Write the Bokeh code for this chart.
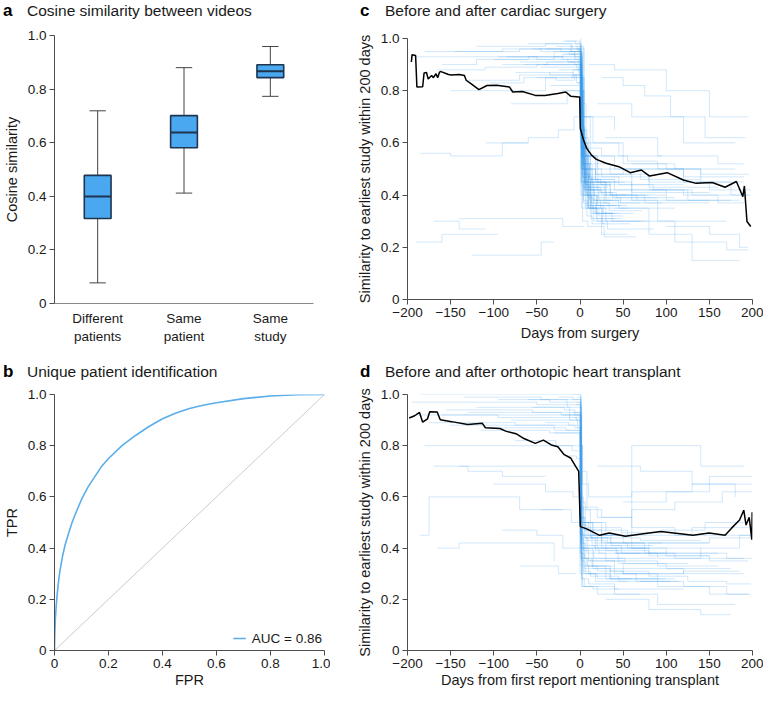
from bokeh.plotting import figure
from bokeh.layouts import row, column
from bokeh.models import FixedTicker, Range1d, Legend, LegendItem, Div
from bokeh.embed import file_html
from bokeh.resources import INLINE

FONT = "Liberation Sans"
TXT = "#1a1a1a"
AXC = "#4d4d4d"
BOXFILL = "#4aa8f0"
BOXLINE = "#1e3550"
ROC = "#5aaeea"
TRACE = "#3d9ff0"

# ---------------- panel a data ----------------
box_labels = ["Different\npatients", "Same\npatient", "Same\nstudy"]
box_low = [0.077, 0.412, 0.773]
box_q1 = [0.317, 0.581, 0.843]
box_med = [0.399, 0.638, 0.867]
box_q3 = [0.478, 0.701, 0.891]
box_high = [0.719, 0.880, 0.959]

# ---------------- panel b data ----------------
roc_fpr = [0, 0.001, 0.003, 0.006, 0.01, 0.015, 0.02, 0.03, 0.04, 0.05, 0.065, 0.08, 0.1,
           0.125, 0.15, 0.175, 0.2, 0.25, 0.3, 0.35, 0.4, 0.45, 0.5, 0.55, 0.6, 0.7, 0.8, 0.9, 1.0]
roc_tpr = [0, 0.06, 0.12, 0.17, 0.22, 0.27, 0.31, 0.37, 0.415, 0.45, 0.5, 0.54, 0.59,
           0.64, 0.68, 0.72, 0.75, 0.80, 0.84, 0.875, 0.905, 0.928, 0.945, 0.958, 0.968, 0.984, 0.994, 0.999, 1.0]
chance = [0, 1]

# ---------------- panel c data ----------------
c_mean_days = [-195.5, -194.7, -190.6, -189.1, -182.4, -180.8, -178, -176, -172, -170, -167,
               -165, -163, -161.9, -152.5, -148.9, -140, -134, -132, -126.5, -117.2, -107.8,
               -96.6, -81.7, -78, -66.8, -51.8, -40.6, -25.7, -16.5, -10.9, -1.5, -0.35, 0.35,
               4.1, 7.8, 13.4, 19, 30.2, 45.1, 58.2, 71.3, 80.6, 101.1, 119.8, 134.6, 153.3,
               168.2, 181.3, 188.8, 190.6, 193.6, 198]
c_mean_vals = [0.91, 0.938, 0.935, 0.814, 0.815, 0.868, 0.87, 0.845, 0.858, 0.85, 0.865,
               0.85, 0.87, 0.874, 0.862, 0.86, 0.862, 0.858, 0.84, 0.827, 0.804, 0.82,
               0.821, 0.814, 0.795, 0.797, 0.782, 0.782, 0.789, 0.795, 0.779, 0.776, 0.776, 0.655,
               0.611, 0.579, 0.553, 0.537, 0.522, 0.509, 0.486, 0.496, 0.473, 0.486, 0.458, 0.445, 0.448,
               0.43, 0.452, 0.394, 0.435, 0.299, 0.28]

c_trace_days = [
    [-190, -100, -10, 2, 40, 120, 190], [-185, -150, -90, -60], [-150, -40, 0, 5, 60, 150],
    [-140, -100, -20, 5], [-125, -45, -30], [-100, -30, 0, 4, 50, 110, 180],
    [-90, -20, 0, 2, 20, 60], [-80, -15, 1, 8, 35, 100], [-60, -10, 0, 3, 15, 45, 95],
    [-50, -8, 1, 6, 25, 55], [-40, -5, 0, 2, 10, 30, 80], [-35, -3, 1, 5, 20, 70, 140],
    [-30, -2, 0, 3, 12, 40], [-25, -1, 2, 7, 30, 90, 170], [-20, -4, 0, 4, 18, 60, 120],
    [-15, -2, 1, 4, 9, 22, 50], [-10, 0, 2, 6, 15, 35, 75, 150], [-8, 0, 3, 9, 28, 65],
    [-5, 0, 1, 5, 11, 40, 100, 185], [-3, 0, 2, 8, 20, 55], [0, 1, 4, 10, 25, 80, 160],
    [0, 2, 6, 15, 45, 110], [1, 3, 8, 18, 60, 130, 195], [2, 5, 12, 30, 70],
    [3, 7, 20, 50, 120, 190], [5, 12, 35, 80, 150, 198], [10, 40, 100, 150, 195],
    [20, 60, 120, 180], [30, 90, 160, 190], [40, 80, 130, 185], [60, 110, 170, 195],
    [-170, -140, -110], [-145, -100, -70, -30, 0, 5, 40], [-70, -25, -6, 0, 3, 14, 35],
    [-45, -12, -2, 1, 6, 16, 42], [-18, -6, 0, 2, 5, 13, 26, 58], [-12, -3, 0, 1, 4, 10, 33],
    [-160, -120, -60, -20, 0, 3, 10, 30], [-130, -70, -30, -4, 0, 2, 9, 22, 45],
    [-110, -60, -25, -7, 0, 1, 7, 15, 38], [-95, -50, -14, -1, 1, 3, 8, 14, 52],
    [-75, -35, -9, 0, 1, 4, 11, 24, 60, 150], [-55, -22, -6, 0, 2, 5, 10, 19, 48],
    [-42, -16, -4, 0, 1, 3, 6, 12, 28, 70], [-28, -9, -2, 0, 1, 4, 8, 17, 36],
    [-22, -7, -1, 0, 2, 5, 9, 16, 32, 85], [-16, -5, 0, 1, 3, 6, 12, 21, 44],
    [-13, -4, 0, 1, 2, 5, 10, 19, 41], [-9, -3, 0, 1, 3, 7, 13, 27, 62],
    [-6, -1, 0, 1, 2, 4, 8, 14, 30], [-4, 0, 1, 2, 4, 7, 12, 25, 53],
    [-2, 0, 1, 3, 6, 10, 18, 37, 78], [0, 1, 2, 4, 7, 12, 20, 34], [0, 1, 3, 5, 9, 15, 26, 48],
    [1, 2, 4, 8, 13, 24, 42, 90], [-190, -160, -130, -95], [60, 100, 140, 175, 198],
    [80, 120, 160, 190], [100, 150, 185, 195],
    [-180, -140, -90, -45, -12, 0, 2, 7, 20], [-165, -110, -50, -18, 0, 1, 5, 12, 28, 66],
    [-120, -85, -40, -10, 0, 1, 4, 9, 18, 40], [-105, -65, -28, -6, 0, 2, 6, 13, 34, 72],
    [-85, -45, -20, -3, 0, 1, 3, 8, 16, 38, 110], [-65, -38, -15, -2, 0, 1, 2, 6, 11, 24, 57],
    [-48, -26, -11, 0, 1, 3, 6, 10, 21, 47, 95], [-36, -19, -8, 0, 1, 2, 4, 9, 19, 46],
    [8, 25, 55, 90, 140, 196], [15, 45, 85, 125, 175], [25, 50, 75, 105, 145, 192],
]
c_trace_vals = [
    [0.93, 0.93, 0.93, 0.55, 0.50, 0.45, 0.45], [0.56, 0.55, 0.60, 0.60], [0.80, 0.85, 0.85, 0.42, 0.38, 0.38],
    [0.31, 0.31, 0.28, 0.28], [0.17, 0.22, 0.22], [0.92, 0.95, 0.97, 0.60, 0.52, 0.50, 0.50],
    [0.90, 0.90, 0.88, 0.35, 0.30, 0.30], [0.75, 0.80, 0.50, 0.45, 0.40, 0.40], [0.98, 0.95, 0.95, 0.70, 0.60, 0.55, 0.55],
    [0.85, 0.88, 0.40, 0.35, 0.25, 0.25], [0.96, 0.96, 0.90, 0.50, 0.45, 0.40, 0.40], [0.82, 0.82, 0.65, 0.55, 0.50, 0.46, 0.46],
    [0.93, 0.93, 0.78, 0.40, 0.33, 0.33], [0.88, 0.88, 0.45, 0.42, 0.38, 0.30, 0.30], [0.99, 0.99, 0.80, 0.55, 0.48, 0.44, 0.44],
    [0.92, 0.90, 0.60, 0.38, 0.35, 0.32, 0.32], [0.95, 0.95, 0.55, 0.47, 0.44, 0.40, 0.37, 0.37], [0.86, 0.86, 0.30, 0.28, 0.24, 0.24],
    [0.97, 0.97, 0.70, 0.52, 0.46, 0.42, 0.38, 0.38], [0.83, 0.83, 0.50, 0.40, 0.36, 0.36], [1.0, 0.85, 0.58, 0.50, 0.47, 0.43, 0.43],
    [0.92, 0.62, 0.44, 0.38, 0.35, 0.35], [0.90, 0.65, 0.50, 0.45, 0.42, 0.40, 0.40], [0.80, 0.48, 0.35, 0.30, 0.30],
    [0.75, 0.55, 0.48, 0.50, 0.47, 0.47], [0.70, 0.52, 0.48, 0.45, 0.42, 0.42], [0.90, 0.88, 0.80, 0.70, 0.70],
    [0.75, 0.70, 0.60, 0.60], [0.62, 0.55, 0.52, 0.52], [0.35, 0.25, 0.15, 0.15], [0.30, 0.22, 0.19, 0.19],
    [0.30, 0.27, 0.27], [0.95, 0.95, 0.96, 0.96, 0.96, 0.70, 0.65], [0.91, 0.91, 0.90, 0.62, 0.52, 0.44, 0.44],
    [0.89, 0.89, 0.87, 0.58, 0.41, 0.36, 0.36], [0.94, 0.92, 0.92, 0.48, 0.40, 0.31, 0.29, 0.29], [0.97, 0.96, 0.96, 0.66, 0.50, 0.43, 0.43],
    [0.90, 0.92, 0.93, 0.94, 0.94, 0.62, 0.45, 0.42], [0.84, 0.86, 0.86, 0.83, 0.83, 0.55, 0.43, 0.38, 0.38],
    [0.60, 0.62, 0.65, 0.70, 0.70, 0.45, 0.36, 0.33, 0.33], [0.93, 0.92, 0.91, 0.91, 0.75, 0.58, 0.50, 0.45, 0.45],
    [0.87, 0.86, 0.85, 0.85, 0.68, 0.52, 0.46, 0.44, 0.41, 0.41], [0.96, 0.95, 0.93, 0.93, 0.66, 0.48, 0.40, 0.36, 0.36],
    [0.90, 0.90, 0.89, 0.89, 0.80, 0.60, 0.45, 0.40, 0.37, 0.37], [0.97, 0.96, 0.95, 0.95, 0.72, 0.50, 0.42, 0.38, 0.38],
    [0.80, 0.80, 0.79, 0.79, 0.60, 0.45, 0.35, 0.30, 0.27, 0.27], [0.99, 0.98, 0.98, 0.85, 0.65, 0.55, 0.48, 0.45, 0.45],
    [0.91, 0.91, 0.91, 0.70, 0.55, 0.42, 0.35, 0.31, 0.31], [0.94, 0.94, 0.94, 0.62, 0.47, 0.40, 0.36, 0.33, 0.33],
    [0.88, 0.88, 0.88, 0.58, 0.44, 0.37, 0.32, 0.29, 0.29], [0.96, 0.96, 0.80, 0.63, 0.51, 0.45, 0.42, 0.40, 0.40],
    [0.86, 0.86, 0.68, 0.47, 0.40, 0.36, 0.33, 0.30, 0.30], [0.95, 0.77, 0.60, 0.50, 0.44, 0.40, 0.37, 0.37], [0.83, 0.64, 0.52, 0.45, 0.39, 0.35, 0.31, 0.31],
    [0.97, 0.74, 0.56, 0.47, 0.43, 0.41, 0.39, 0.39], [0.22, 0.25, 0.25, 0.25], [0.52, 0.50, 0.45, 0.40, 0.40],
    [0.42, 0.40, 0.37, 0.37], [0.28, 0.25, 0.20, 0.20],
    [0.95, 0.95, 0.96, 0.95, 0.94, 0.94, 0.58, 0.46, 0.42], [0.88, 0.89, 0.90, 0.90, 0.90, 0.66, 0.52, 0.44, 0.40, 0.38],
    [0.97, 0.97, 0.98, 0.98, 0.98, 0.80, 0.60, 0.50, 0.46, 0.46], [0.83, 0.85, 0.84, 0.86, 0.86, 0.54, 0.43, 0.37, 0.34, 0.34],
    [0.93, 0.93, 0.92, 0.92, 0.92, 0.72, 0.55, 0.45, 0.41, 0.39, 0.39], [0.90, 0.91, 0.91, 0.91, 0.91, 0.78, 0.57, 0.44, 0.38, 0.35, 0.35],
    [0.96, 0.96, 0.95, 0.95, 0.82, 0.62, 0.48, 0.42, 0.39, 0.37, 0.37], [0.87, 0.87, 0.86, 0.86, 0.69, 0.52, 0.43, 0.37, 0.33, 0.33],
    [0.58, 0.55, 0.53, 0.50, 0.48, 0.48], [0.47, 0.44, 0.42, 0.38, 0.38], [0.85, 0.82, 0.78, 0.70, 0.62, 0.62],
]

# ---------------- panel d data ----------------
d_mean_days = [-198.1, -191.7, -186.1, -182.4, -176.8, -174.2, -165.6, -162, -148.9, -130.2,
               -113.4, -109.7, -92.9, -85.4, -74.2, -65, -51.8, -42.5, -33.2, -25.7, -18.3,
               -10.9, -5.2, -1.5, 0.35, 7.8, 22.7, 33.9, 52.6, 71.3, 93.6, 108.6, 130.9,
               149.6, 168.2, 175.7, 185, 189.9, 192.5, 196.2, 199.2, 199.6]
d_mean_vals = [0.908, 0.917, 0.93, 0.892, 0.905, 0.933, 0.932, 0.901, 0.894, 0.883,
               0.888, 0.87, 0.867, 0.856, 0.847, 0.828, 0.809, 0.822, 0.803, 0.796, 0.765,
               0.752, 0.72, 0.70, 0.484, 0.475, 0.45, 0.459, 0.446, 0.455, 0.465, 0.459, 0.45,
               0.459, 0.45, 0.478, 0.51, 0.548, 0.49, 0.52, 0.433, 0.54]

d_trace_days = [
    [-185, -100, -2, 1, 20, 80, 150, 198], [-180, -120, -5, 0, 2, 30, 100],
    [-185, -175, -160, -70, -20], [-165, -140, -50, -30], [-160, -60, -1, 1, 15, 60, 140],
    [-150, -90, -30, -1, 1, 10, 50, 120, 190], [-140, -80, -15, 0, 2, 25, 75, 160],
    [-120, -60, -12, 0, 3, 40, 90, 180], [-100, -40, -8, 0, 5, 35, 110],
    [-80, -20, -3, 1, 6, 45, 100, 175], [-60, -15, -1, 2, 12, 55, 130, 195],
    [-45, -10, 0, 2, 20, 70], [-30, -5, 0, 3, 8, 30, 90, 160], [-20, -2, 0, 2, 10, 40, 120],
    [-10, 0, 1, 4, 15, 50, 150], [-5, 0, 1, 5, 25, 80, 170, 200], [0, 3, 10, 60, 130, 200],
    [2, 8, 25, 60, 110, 200], [5, 30, 60, 100, 140, 190], [10, 40, 90, 150, 198],
    [20, 70, 130, 180], [30, 80, 140, 175], [-70, -25, -5], [-90, -50, -20, 0, 4, 20, 60],
    [50, 100, 150, 200], [-8, 0, 2, 9, 30, 65, 115], [-3, 0, 1, 6, 18, 44, 88],
    [-130, -70, -20, -1, 0, 1, 5, 14, 40], [-110, -50, -16, -2, 0, 1, 4, 22, 70],
    [-95, -35, -12, -1, 0, 1, 3, 10, 35, 90], [-75, -28, -9, 0, 1, 2, 6, 18, 55],
    [-55, -18, -6, 0, 1, 3, 9, 30, 80, 150], [-40, -13, -3, 0, 1, 2, 5, 15, 45],
    [-25, -8, -2, 0, 1, 4, 12, 35, 95], [-15, -4, 0, 1, 3, 8, 20, 50, 120],
    [-7, -1, 0, 1, 2, 7, 17, 42, 100], [-3, 0, 1, 2, 5, 13, 32, 75],
    [-170, -130, -90, -40], [40, 90, 140, 185, 200], [70, 120, 170, 195], [15, 55, 100, 150, 195],
    [-195, -150, -100, -50, -10, 0, 1, 6, 25, 70, 140], [-190, -140, -95, -45, -4, 0, 1, 8, 30, 75],
    [-175, -125, -75, -30, -6, 0, 1, 3, 12, 45, 105], [-155, -105, -55, -22, -3, 0, 1, 2, 10, 36, 85],
    [-135, -85, -45, -17, -2, 0, 1, 4, 16, 52, 125], [-115, -65, -35, -11, 0, 1, 3, 14, 48, 110, 190],
    [3, 20, 60, 110, 165, 200], [6, 35, 80, 125, 170, 198], [12, 48, 95, 145, 190], [1, 15, 50, 120, 185],
]
d_trace_vals = [
    [1.0, 1.0, 1.0, 0.45, 0.40, 0.42, 0.44, 0.44], [0.80, 0.80, 0.80, 0.80, 0.30, 0.28, 0.28],
    [0.45, 0.60, 0.60, 0.55, 0.55], [0.40, 0.42, 0.42, 0.35], [0.92, 0.92, 0.92, 0.50, 0.45, 0.40, 0.40],
    [0.88, 0.88, 0.86, 0.86, 0.40, 0.35, 0.32, 0.30, 0.30], [0.72, 0.72, 0.72, 0.60, 0.50, 0.42, 0.38, 0.38],
    [0.95, 0.95, 0.90, 0.30, 0.25, 0.22, 0.18, 0.18], [0.65, 0.62, 0.60, 0.38, 0.32, 0.28, 0.28],
    [0.90, 0.90, 0.88, 0.42, 0.36, 0.34, 0.32, 0.32], [0.98, 0.95, 0.95, 0.55, 0.47, 0.45, 0.48, 0.48],
    [0.55, 0.50, 0.45, 0.25, 0.22, 0.22], [0.85, 0.85, 0.80, 0.40, 0.38, 0.35, 0.33, 0.33], [0.92, 0.92, 0.70, 0.28, 0.26, 0.24, 0.24],
    [1.0, 1.0, 0.60, 0.50, 0.45, 0.42, 0.42], [0.96, 0.96, 0.48, 0.44, 0.40, 0.38, 0.36, 0.36], [0.80, 0.65, 0.60, 0.62, 0.65, 0.65],
    [0.70, 0.55, 0.52, 0.48, 0.45, 0.45], [0.50, 0.45, 0.80, 0.80, 0.72, 0.72], [0.35, 0.30, 0.25, 0.22, 0.22],
    [0.72, 0.70, 0.65, 0.60], [0.20, 0.16, 0.14, 0.14], [0.33, 0.30, 0.30], [0.47, 0.45, 0.40, 0.40, 0.30, 0.28, 0.28],
    [0.58, 0.62, 0.68, 0.68], [0.93, 0.93, 0.36, 0.33, 0.30, 0.27, 0.27], [0.99, 0.99, 0.52, 0.44, 0.39, 0.36, 0.36],
    [0.93, 0.93, 0.93, 0.93, 0.52, 0.42, 0.36, 0.33, 0.33], [0.87, 0.87, 0.86, 0.86, 0.60, 0.46, 0.40, 0.38, 0.38],
    [0.98, 0.97, 0.97, 0.97, 0.70, 0.38, 0.33, 0.30, 0.28, 0.28], [0.82, 0.80, 0.78, 0.78, 0.45, 0.35, 0.30, 0.27, 0.27],
    [0.95, 0.94, 0.92, 0.92, 0.50, 0.44, 0.40, 0.39, 0.37, 0.37], [0.89, 0.88, 0.87, 0.87, 0.33, 0.28, 0.25, 0.24, 0.24],
    [0.99, 0.98, 0.98, 0.98, 0.56, 0.48, 0.44, 0.42, 0.42], [0.76, 0.75, 0.75, 0.40, 0.36, 0.33, 0.31, 0.30, 0.30],
    [0.91, 0.91, 0.91, 0.47, 0.43, 0.41, 0.40, 0.38, 0.38], [0.97, 0.97, 0.62, 0.52, 0.47, 0.44, 0.42, 0.42],
    [0.72, 0.70, 0.68, 0.68], [0.38, 0.36, 0.40, 0.45, 0.45], [0.27, 0.25, 0.22, 0.22], [0.42, 0.40, 0.37, 0.35, 0.35],
    [0.97, 0.97, 0.97, 0.96, 0.96, 0.96, 0.58, 0.47, 0.44, 0.43, 0.43], [0.92, 0.92, 0.91, 0.91, 0.90, 0.90, 0.49, 0.43, 0.40, 0.40],
    [0.89, 0.89, 0.88, 0.88, 0.87, 0.87, 0.36, 0.31, 0.29, 0.27, 0.27], [0.94, 0.94, 0.93, 0.92, 0.92, 0.92, 0.64, 0.50, 0.45, 0.41, 0.41],
    [0.99, 0.99, 0.98, 0.98, 0.98, 0.98, 0.44, 0.39, 0.36, 0.34, 0.34], [0.86, 0.86, 0.85, 0.85, 0.85, 0.52, 0.45, 0.41, 0.38, 0.36, 0.36],
    [0.56, 0.52, 0.55, 0.58, 0.62, 0.62], [0.33, 0.31, 0.29, 0.27, 0.26, 0.26], [0.48, 0.46, 0.47, 0.50, 0.50], [0.40, 0.32, 0.30, 0.31, 0.31],
]

y_ticks = [0, 0.2, 0.4, 0.6, 0.8, 1.0]
day_ticks = [-200, -150, -100, -50, 0, 50, 100, 150, 200]
y_tick_text = {0: "0", 1: "1.0"}
day_tick_text = {-200: "\u2212200", -150: "\u2212150", -100: "\u2212100", -50: "\u221250"}

panel_letters = ["a", "b", "c", "d"]
panel_titles = ["Cosine similarity between videos", "Unique patient identification",
                "Before and after cardiac surgery", "Before and after orthotopic heart transplant"]


def make_fig(w, h, left, right, top, bottom, xr, yr):
    p = figure(width=w, height=h, x_range=xr, y_range=yr, output_backend="svg",
               toolbar_location=None, min_border_left=left, min_border_right=right,
               min_border_top=top, min_border_bottom=bottom)
    p.outline_line_color = None
    p.xgrid.visible = False
    p.ygrid.visible = False
    for ax in p.axis:
        ax.axis_line_color = AXC
        ax.major_tick_line_color = AXC
        ax.major_tick_in = 0
        ax.major_tick_out = 5
        ax.minor_tick_line_color = None
        ax.major_label_text_font = FONT
        ax.major_label_text_font_size = "13.5px"
        ax.major_label_text_color = TXT
        ax.major_label_standoff = 3
        ax.axis_label_text_font = FONT
        ax.axis_label_text_font_size = "14.5px"
        ax.axis_label_text_font_style = "normal"
        ax.axis_label_text_color = TXT
        ax.axis_label_standoff = 5
    p.yaxis.ticker = FixedTicker(ticks=y_ticks)
    p.yaxis.major_label_overrides = y_tick_text
    return p


def title_div(letter, text, width, height, letter_x, text_x, pad_top):
    fam = "font-family:'%s';" % FONT
    html = ('<div style="%swhite-space:nowrap;line-height:20px;padding-top:%dpx;margin:0">'
            '<span style="display:inline-block;width:%dpx"></span>'
            '<span style="%sdisplay:inline-block;width:%dpx;font-weight:bold;font-size:17px;color:#000">%s</span>'
            '<span style="%sfont-size:15.5px;color:%s">%s</span></div>') % (
        fam, pad_top, letter_x, fam, text_x - letter_x, letter, fam, TXT, text)
    return Div(text=html, width=width, height=height, margin=0)


TOP_DIV_H = 22
TOP_FIG_H = 332
BOT_DIV_H = 28
BOT_FIG_H = 309
LEFT_W = 330
RIGHT_W = 433

# ---------------- figure a ----------------
pa = make_fig(LEFT_W, TOP_FIG_H, 54, 17, 13, 51, Range1d(0, 3), Range1d(0, 1.0))
box_x = [0.5, 1.5, 2.5]
pa.segment(x0=box_x, y0=box_q3, x1=box_x, y1=box_high, line_color="#444444", line_width=1)
pa.segment(x0=box_x, y0=box_low, x1=box_x, y1=box_q1, line_color="#444444", line_width=1)
cap = 0.19
pa.segment(x0=[v - cap / 2 for v in box_x], y0=box_high, x1=[v + cap / 2 for v in box_x], y1=box_high,
           line_color="#444444", line_width=1)
pa.segment(x0=[v - cap / 2 for v in box_x], y0=box_low, x1=[v + cap / 2 for v in box_x], y1=box_low,
           line_color="#444444", line_width=1)
pa.vbar(x=box_x, width=0.31, bottom=box_q1, top=box_q3, fill_color=BOXFILL,
        line_color=BOXLINE, line_width=1.6)
pa.segment(x0=[v - 0.155 for v in box_x], y0=box_med, x1=[v + 0.155 for v in box_x], y1=box_med,
           line_color=BOXLINE, line_width=2)
pa.xaxis.ticker = FixedTicker(ticks=box_x)
pa.xaxis.major_label_overrides = {0.5: box_labels[0], 1.5: box_labels[1], 2.5: box_labels[2]}
pa.xaxis.major_tick_out = 0
pa.xaxis.major_label_standoff = 7
pa.xaxis.axis_line_color = "#8a8a8a"
pa.yaxis.axis_label = "Cosine similarity"

# ---------------- figure c ----------------
pc = make_fig(RIGHT_W, TOP_FIG_H, 77, 11, 16, 55, Range1d(-200, 200), Range1d(0, 1.0))
for dd, vv in zip(c_trace_days, c_trace_vals):
    pc.step(dd, vv, mode="after", line_color=TRACE, line_alpha=0.24, line_width=1)
pc.line(c_mean_days, c_mean_vals, line_color="#000000", line_width=1.5)
pc.xaxis.ticker = FixedTicker(ticks=day_ticks)
pc.xaxis.major_label_overrides = day_tick_text
pc.xaxis.axis_label = "Days from surgery"
pc.yaxis.axis_label = "Similarity to earliest study within 200 days"

# ---------------- figure b ----------------
pb = make_fig(LEFT_W, BOT_FIG_H, 54, 6, 12, 41, Range1d(0, 1.0), Range1d(0, 1.0))
pb.line(chance, chance, line_color="#cccccc", line_width=1)
roc_r = pb.line(roc_fpr, roc_tpr, line_color=ROC, line_width=1.6)
pb.xaxis.ticker = FixedTicker(ticks=y_ticks)
pb.xaxis.major_label_overrides = y_tick_text
pb.xaxis.axis_label = "FPR"
pb.xaxis.axis_label_standoff = 1
pb.yaxis.axis_label = "TPR"
leg = Legend(items=[LegendItem(label="AUC = 0.86", renderers=[roc_r])], location="bottom_right",
             background_fill_alpha=0, border_line_color=None, label_text_font=FONT,
             label_text_font_size="13.5px", label_text_color=TXT, glyph_width=13,
             label_standoff=6, margin=2, padding=4)
pb.add_layout(leg)

# ---------------- figure d ----------------
pd_ = make_fig(RIGHT_W, BOT_FIG_H, 77, 11, 12, 41, Range1d(-200, 200), Range1d(0, 1.0))
for dd, vv in zip(d_trace_days, d_trace_vals):
    pd_.step(dd, vv, mode="after", line_color=TRACE, line_alpha=0.24, line_width=1)
pd_.line(d_mean_days, d_mean_vals, line_color="#000000", line_width=1.5)
pd_.xaxis.ticker = FixedTicker(ticks=day_ticks)
pd_.xaxis.major_label_overrides = day_tick_text
pd_.xaxis.axis_label = "Days from first report mentioning transplant"
pd_.xaxis.axis_label_standoff = 1
pd_.yaxis.axis_label = "Similarity to earliest study within 200 days"

div_a = title_div(panel_letters[0], panel_titles[0], LEFT_W, TOP_DIV_H, 3, 27, 1)
div_b = title_div(panel_letters[1], panel_titles[1], LEFT_W, BOT_DIV_H, 3, 27, 8)
div_c = title_div(panel_letters[2], panel_titles[2], RIGHT_W, TOP_DIV_H, 30, 55, 1)
div_d = title_div(panel_letters[3], panel_titles[3], RIGHT_W, BOT_DIV_H, 30, 55, 8)

layout = column(row(column(div_a, pa), column(div_c, pc)),
                row(column(div_b, pb), column(div_d, pd_)))
open("out.html", "w").write(file_html(layout, INLINE))
